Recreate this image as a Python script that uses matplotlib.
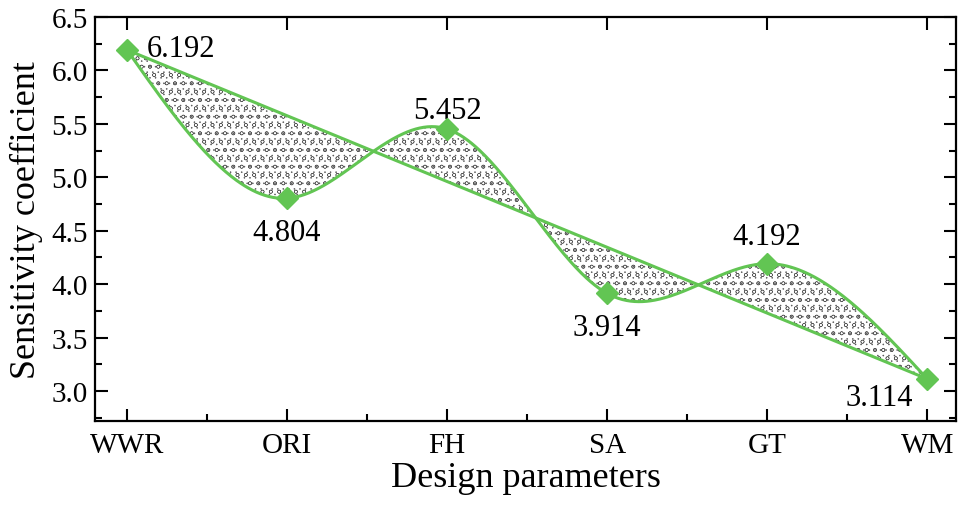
import numpy as np
import matplotlib.pyplot as plt
from matplotlib.ticker import MultipleLocator, AutoMinorLocator

# Data
params = ['WWR', 'ORI', 'FH', 'SA', 'GT', 'WM']
coeff = [6.192, 4.804, 5.452, 3.914, 4.192, 3.114]

plt.rcParams['font.family'] = ['Liberation Serif', 'DejaVu Serif']
plt.rcParams['hatch.linewidth'] = 0.35
green = '#62c553'


def natural_spline(x, y, xs):
    # natural cubic spline through the points
    x = np.asarray(x, float)
    y = np.asarray(y, float)
    n = len(x)
    h = np.diff(x)
    A = np.zeros((n, n))
    b = np.zeros(n)
    A[0, 0] = A[-1, -1] = 1
    for i in range(1, n - 1):
        A[i, i - 1] = h[i - 1]
        A[i, i] = 2 * (h[i - 1] + h[i])
        A[i, i + 1] = h[i]
        b[i] = 3 * ((y[i + 1] - y[i]) / h[i] - (y[i] - y[i - 1]) / h[i - 1])
    c = np.linalg.solve(A, b)
    out = np.empty_like(xs)
    for k, t in enumerate(xs):
        i = min(max(np.searchsorted(x, t) - 1, 0), n - 2)
        d = t - x[i]
        bi = (y[i + 1] - y[i]) / h[i] - h[i] * (2 * c[i] + c[i + 1]) / 3
        di = (c[i + 1] - c[i]) / (3 * h[i])
        out[k] = y[i] + bi * d + c[i] * d ** 2 + di * d ** 3
    return out


x = np.arange(len(params))
xs = np.linspace(0, len(params) - 1, 600)
ys = natural_spline(x, coeff, xs)
yline = np.interp(xs, [x[0], x[-1]], [coeff[0], coeff[-1]])

fig = plt.figure(figsize=(9.58, 5.06), dpi=100)
ax = fig.add_axes([95 / 958, 1 - 422 / 506, 861 / 958, 404 / 506])

ax.fill_between(xs, ys, yline, facecolor='white', edgecolor='#555555',
                hatch='oo...', linewidth=0)
ax.plot(xs, ys, color=green, lw=2.2, zorder=3)
ax.plot([x[0], x[-1]], [coeff[0], coeff[-1]], color=green, lw=2.2, zorder=3)
ax.plot(x, coeff, linestyle='none', marker='D', ms=11, color=green, zorder=4)

# value labels
offsets = [(14, 1, 'left', 'center'), (0, -14, 'center', 'top'),
           (0, 3, 'center', 'bottom'), (0, -14, 'center', 'top'),
           (0, 9, 'center', 'bottom'), (-10, -3, 'right', 'top')]
for xi, yi, (dx, dy, ha, va) in zip(x, coeff, offsets):
    ax.annotate(f'{yi:.3f}', (xi, yi), xytext=(dx, dy), textcoords='offset points',
                ha=ha, va=va, fontsize=22)

ax.set_xlim(-0.2, 5.18)
ax.set_ylim(2.72, 6.5)
ax.set_xticks(x)
ax.set_xticklabels(params)
ax.yaxis.set_major_locator(MultipleLocator(0.5))
ax.yaxis.set_minor_locator(AutoMinorLocator(2))
ax.xaxis.set_minor_locator(AutoMinorLocator(2))
ax.tick_params(which='both', direction='in', top=True, right=True,
               labelsize=21, width=1.5)
ax.tick_params(which='major', length=9)
ax.tick_params(which='minor', length=5)
ax.tick_params(axis='x', which='both', top=False, pad=8)
ax.tick_params(axis='x', which='major', top=True)
ax.tick_params(axis='y', pad=5)
for s in ax.spines.values():
    s.set_linewidth(1.6)

ax.set_xlabel('Design parameters', fontsize=26, labelpad=2)
ax.set_ylabel('Sensitivity coefficient', fontsize=26, labelpad=6)

fig.savefig('out.png', dpi=100)
